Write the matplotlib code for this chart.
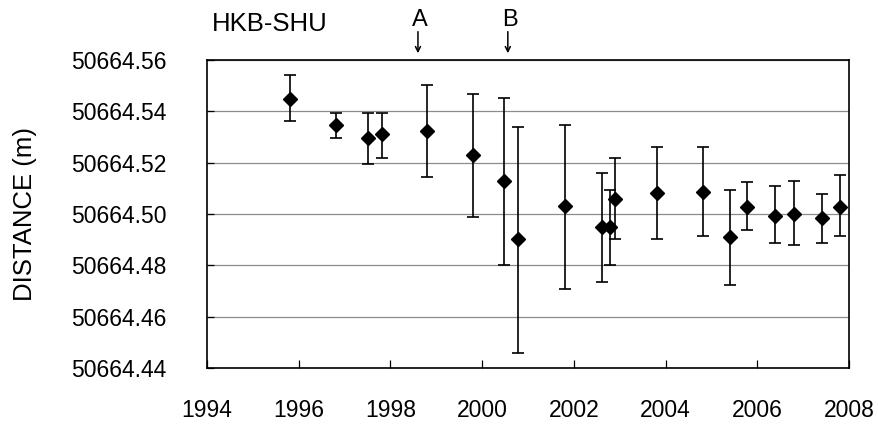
import numpy as np
import matplotlib
matplotlib.use('Agg')
import matplotlib.pyplot as plt

plt.rcParams['font.family'] = ['Liberation Sans', 'DejaVu Sans']

# observation epochs (decimal year) and distances HKB-SHU
year = [1995.81, 1996.81, 1997.50, 1997.81, 1998.79, 1999.79, 2000.48, 2000.78,
        2001.80, 2002.61, 2002.79, 2002.90, 2003.81, 2004.82, 2005.40, 2005.78,
        2006.39, 2006.80, 2007.41, 2007.80]
dist = [50664.5447, 50664.5346, 50664.5297, 50664.5311, 50664.5325, 50664.5231,
        50664.5130, 50664.4901, 50664.5030, 50664.4951, 50664.4951, 50664.5058,
        50664.5081, 50664.5087, 50664.4909, 50664.5028, 50664.4993, 50664.4999,
        50664.4986, 50664.5028]
err_hi = [50664.5540, 50664.5394, 50664.5394, 50664.5394, 50664.5504, 50664.5469,
          50664.5453, 50664.5339, 50664.5347, 50664.5161, 50664.5095, 50664.5217,
          50664.5260, 50664.5260, 50664.5094, 50664.5124, 50664.5108, 50664.5129,
          50664.5079, 50664.5152]
err_lo = [50664.5361, 50664.5297, 50664.5196, 50664.5217, 50664.5145, 50664.4987,
          50664.4800, 50664.4457, 50664.4708, 50664.4736, 50664.4800, 50664.4903,
          50664.4903, 50664.4916, 50664.4722, 50664.4937, 50664.4887, 50664.4879,
          50664.4887, 50664.4916]

events = ['A', 'B']
event_year = [1998.60, 2000.56]

x = np.array(year)
y = np.array(dist)
yerr = np.vstack([y - np.array(err_lo), np.array(err_hi) - y])

fig = plt.figure(figsize=(8.79, 4.25), dpi=100)
ax = fig.add_axes([0.2355, 0.1341, 0.7304, 0.7247])

ax.errorbar(x, y, yerr=yerr, fmt='D', color='black', ms=7.5, elinewidth=1.2,
            capsize=4.5, capthick=1.2, zorder=3)

ax.set_xlim(1994, 2008)
ax.set_ylim(50664.44, 50664.56)
ax.set_xticks(np.arange(1994, 2009, 2))
yt = np.round(np.arange(50664.44, 50664.5601, 0.02), 2)
ax.set_yticks(yt)
ax.set_yticklabels(['%.2f' % v for v in yt])
ax.yaxis.grid(True, color='#8c8c8c', linewidth=0.9)
ax.set_axisbelow(True)
ax.tick_params(axis='x', direction='in', length=6, labelsize=16.5, pad=22, width=0.9)
ax.tick_params(axis='y', direction='in', length=5, labelsize=16.5, pad=29, width=0.9)
for s in ax.spines.values():
    s.set_linewidth(1.2)

ax.set_ylabel('DISTANCE (m)', fontsize=18.5, labelpad=25)

ax.text(1995.37, 1.117, 'HKB-SHU', transform=ax.get_xaxis_transform(),
        ha='center', va='center', fontsize=18.5)
for lab, ey in zip(events, event_year):
    ax.text(ey + 0.05, 1.13, lab, transform=ax.get_xaxis_transform(),
            ha='center', va='center', fontsize=17)
    ax.annotate('', xy=(ey, 1.022), xytext=(ey, 1.092),
                xycoords=ax.get_xaxis_transform(), textcoords=ax.get_xaxis_transform(),
                arrowprops=dict(arrowstyle='->', lw=1.1, color='black',
                                shrinkA=0, shrinkB=0, mutation_scale=9),
                annotation_clip=False)

fig.savefig('out.png', dpi=100)
